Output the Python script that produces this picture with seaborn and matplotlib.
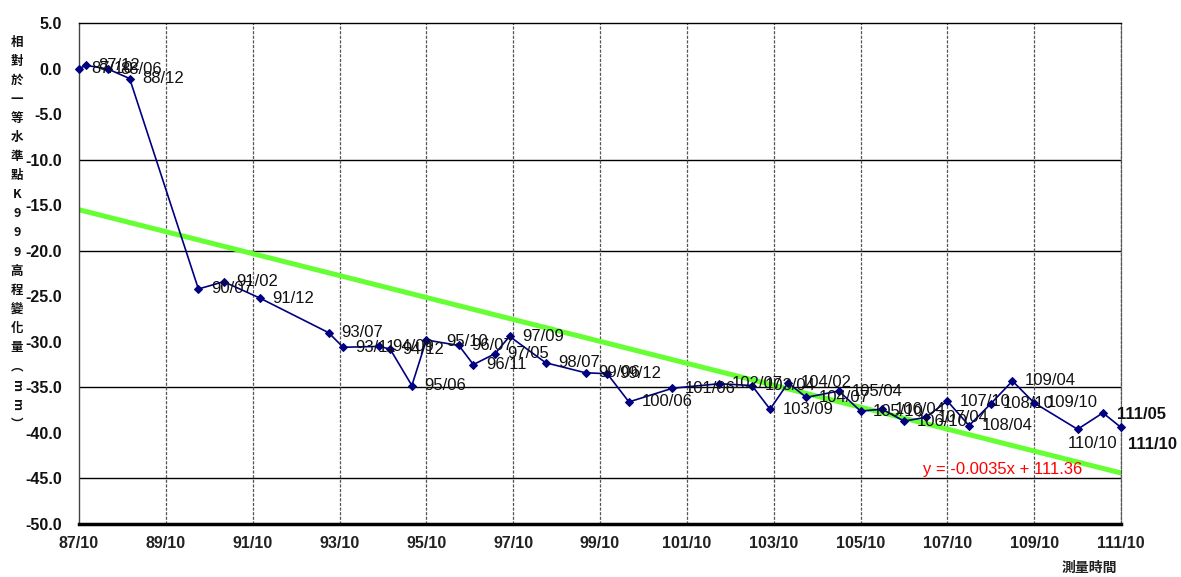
import matplotlib
matplotlib.use("Agg")
import matplotlib.pyplot as plt
import seaborn as sns
import numpy as np
import pandas as pd

# ---------------- data ----------------
dates = ["87/10", "87/12", "88/06", "88/12", "90/07", "91/02", "91/12", "93/07",
         "93/11", "94/09", "94/12", "95/06", "95/10", "96/07", "96/11", "97/05",
         "97/09", "98/07", "99/06", "99/12", "100/06", "101/06", "102/07", "103/04",
         "103/09", "104/02", "104/07", "105/04", "105/10", "106/04", "106/10",
         "107/04", "107/10", "108/04", "108/10", "109/04", "109/10", "110/10",
         "111/05", "111/10"]
values = [0.0, 0.35, -0.05, -1.1, -24.2, -23.4, -25.2, -29.0, -30.6, -30.5, -30.8,
          -34.8, -29.8, -30.4, -32.5, -31.3, -29.4, -32.3, -33.4, -33.5, -36.6,
          -35.1, -34.6, -34.8, -37.4, -34.5, -36.1, -35.4, -37.6, -37.4, -38.7,
          -38.3, -36.5, -39.2, -36.8, -34.3, -36.7, -39.6, -37.8, -39.4]
trend_dates = ["87/10", "111/10"]
trend_values = [-15.5, -44.4]
trend_text = "y = -0.0035x + 111.36"
x_ticks = ["87/10", "89/10", "91/10", "93/10", "95/10", "97/10", "99/10",
           "101/10", "103/10", "105/10", "107/10", "109/10", "111/10"]
y_ticks = [5, 0, -5, -10, -15, -20, -25, -30, -35, -40, -45, -50]
h_lines = [-10, -20, -35, -45]
ylabel_chars = list("相對於一等水準點K999高程變化量") + ["︵", "m", "m", "︶"]
xlabel = "測量時間"


def to_num(s):
    y, m = s.split("/")
    return int(y) + (int(m) - 1) / 12.0


df = pd.DataFrame({"t": [to_num(d) for d in dates], "v": values})
tdf = pd.DataFrame({"t": [to_num(d) for d in trend_dates], "v": trend_values})

# ---------------- style ----------------
sns.set_theme(style="white")
plt.rcParams["font.family"] = ["Liberation Sans", "Noto Sans CJK TC", "DejaVu Sans"]

fig = plt.figure(figsize=(11.81, 5.77), dpi=100)
ax = fig.add_axes([79 / 1181, 1 - 524 / 577, (1121 - 79) / 1181, (524 - 23) / 577])

xmin, xmax = to_num("87/10"), to_num("111/10")
ax.set_xlim(xmin, xmax)
ax.set_ylim(-50, 5)

# grid lines
for v in h_lines:
    ax.axhline(v, color="black", lw=1.0, zorder=1)
for t in x_ticks[1:]:
    ax.axvline(to_num(t), color="#555555", lw=0.9, ls=(0, (2.5, 1.2)), zorder=1)

# trend line
sns.lineplot(data=tdf, x="t", y="v", ax=ax, color="#66ff33", lw=3.6, zorder=2,
             legend=False)

# data line
sns.lineplot(data=df, x="t", y="v", ax=ax, color="#000080", lw=1.2, marker="D",
             markersize=4.5, markeredgecolor="#000080", markerfacecolor="#000080",
             zorder=3, legend=False, clip_on=False)

# data labels
special = {
    "110/10": dict(xytext=(-7, -10), weight="normal", size=12),
    "111/05": dict(xytext=(10, -1), weight="bold", size=12),
    "111/10": dict(xytext=(5, -12), weight="bold", size=12),
    "95/10": dict(xytext=(14, -1), weight="normal", size=12),
}
for d, t, v in zip(dates, df["t"], df["v"]):
    opt = special.get(d, dict(xytext=(9, 0), weight="normal", size=12))
    ax.annotate(d, (t, v), xytext=opt["xytext"], textcoords="offset points",
                ha="left", va="center", fontsize=opt["size"],
                fontweight=opt["weight"], color="#111111", zorder=4,
                annotation_clip=False)

# trend equation
ax.text(to_num("107/01") + 0.2, -44.0, trend_text, color="red", fontsize=12,
        ha="left", va="center", zorder=5)

# axes formatting
ax.set_xticks([to_num(t) for t in x_ticks])
ax.set_xticklabels(x_ticks, fontsize=11.5, fontweight="bold", color="#222222")
ax.set_yticks(y_ticks)
ax.set_yticklabels([f"{v:.1f}" for v in y_ticks], fontsize=11.5,
                   fontweight="bold", color="#111111")
ax.tick_params(axis="y", length=0, pad=12.5)
ax.tick_params(axis="x", length=0, pad=9)
ax.set_xlabel("")
ax.set_ylabel("")

ax.spines["top"].set_color("black")
ax.spines["top"].set_linewidth(1.0)
ax.spines["left"].set_color("#444444")
ax.spines["left"].set_linewidth(1.0)
ax.spines["bottom"].set_color("black")
ax.spines["bottom"].set_linewidth(2.5)
ax.spines["right"].set_color("#555555")
ax.spines["right"].set_linewidth(0.9)
ax.spines["right"].set_linestyle((0, (2.5, 1.2)))

# vertical stacked y label
top_px, step_px = 42, 19.1
for i, ch in enumerate(ylabel_chars):
    ypx = top_px + i * step_px
    rot = -90 if ch == "m" else 0
    fig.text(17 / 1181, 1 - ypx / 577, ch, ha="center", va="center",
             fontsize=9, fontweight="bold", rotation=rot,
             family=["Noto Sans CJK TC", "DejaVu Sans"], color="#111111")

fig.text(1089 / 1181, 1 - 568 / 577, xlabel, ha="center", va="center",
         fontsize=10, fontweight="bold", family=["Noto Sans CJK TC", "DejaVu Sans"],
         color="#222222")

fig.savefig("out.png", dpi=100)
